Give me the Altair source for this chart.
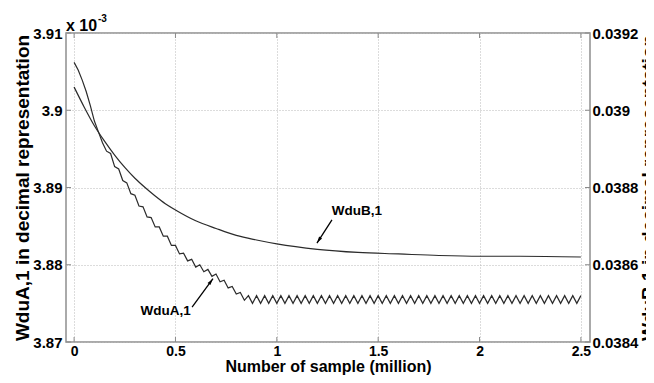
import altair as alt
import pandas as pd

FONT = "Liberation Sans"
W, H = 524, 309

# ---------------- data ----------------
# x in million samples, WduA,1 in units of 1e-3 (left axis)
a_x = [0.00, 0.02, 0.04, 0.06, 0.08, 0.10, 0.12, 0.14, 0.16, 0.18,
       0.20, 0.22, 0.24, 0.26, 0.28, 0.30, 0.32, 0.34, 0.36, 0.38,
       0.40, 0.42, 0.44, 0.46, 0.48, 0.50, 0.52, 0.54, 0.56, 0.58,
       0.60, 0.62, 0.64, 0.66, 0.68, 0.70, 0.72, 0.74, 0.76, 0.78,
       0.80, 0.82, 0.84, 0.86, 0.88, 0.90, 0.92, 0.94, 0.96, 0.98,
       1.00, 1.02, 1.04, 1.06, 1.08, 1.10, 1.12, 1.14, 1.16, 1.18,
       1.20, 1.22, 1.24, 1.26, 1.28, 1.30, 1.32, 1.34, 1.36, 1.38,
       1.40, 1.42, 1.44, 1.46, 1.48, 1.50, 1.52, 1.54, 1.56, 1.58,
       1.60, 1.62, 1.64, 1.66, 1.68, 1.70, 1.72, 1.74, 1.76, 1.78,
       1.80, 1.82, 1.84, 1.86, 1.88, 1.90, 1.92, 1.94, 1.96, 1.98,
       2.00, 2.02, 2.04, 2.06, 2.08, 2.10, 2.12, 2.14, 2.16, 2.18,
       2.20, 2.22, 2.24, 2.26, 2.28, 2.30, 2.32, 2.34, 2.36, 2.38,
       2.40, 2.42, 2.44, 2.46, 2.48, 2.50]
a_y = [3.9062, 3.9052, 3.9039, 3.9024, 3.9006, 3.8986, 3.8972, 3.8958, 3.8947, 3.8944,
       3.8927, 3.8924, 3.8909, 3.8906, 3.8892, 3.8890, 3.8876, 3.8875, 3.8862, 3.8861,
       3.8849, 3.8849, 3.8837, 3.8837, 3.8825, 3.8825, 3.8814, 3.8815, 3.8805, 3.8807,
       3.8797, 3.8800, 3.8791, 3.8794, 3.8785, 3.8788, 3.8778, 3.8780, 3.8770, 3.8772,
       3.8762, 3.8764, 3.8754, 3.8760, 3.8750, 3.8760, 3.8750, 3.8760, 3.8750, 3.8760,
       3.8750, 3.8760, 3.8750, 3.8760, 3.8750, 3.8760, 3.8750, 3.8760, 3.8750, 3.8760,
       3.8750, 3.8760, 3.8750, 3.8760, 3.8750, 3.8760, 3.8750, 3.8760, 3.8750, 3.8760,
       3.8750, 3.8760, 3.8750, 3.8760, 3.8750, 3.8760, 3.8750, 3.8760, 3.8750, 3.8760,
       3.8750, 3.8760, 3.8750, 3.8760, 3.8750, 3.8760, 3.8750, 3.8760, 3.8750, 3.8760,
       3.8750, 3.8760, 3.8750, 3.8760, 3.8750, 3.8760, 3.8750, 3.8760, 3.8750, 3.8760,
       3.8750, 3.8760, 3.8750, 3.8760, 3.8750, 3.8760, 3.8750, 3.8760, 3.8750, 3.8760,
       3.8750, 3.8760, 3.8750, 3.8760, 3.8750, 3.8760, 3.8750, 3.8760, 3.8750, 3.8760,
       3.8750, 3.8760, 3.8750, 3.8760, 3.8750, 3.8760]

# WduB,1 (right axis)
b_x = [0.00, 0.05, 0.10, 0.15, 0.20, 0.25, 0.30, 0.35, 0.40, 0.45, 0.50,
       0.60, 0.70, 0.80, 0.90, 1.00, 1.20, 1.40, 1.60, 1.80, 2.00, 2.20, 2.50]
b_y = [0.039060, 0.039008, 0.038960, 0.038920, 0.038884, 0.038852, 0.038824,
       0.038800, 0.038778, 0.038758, 0.038742, 0.038714, 0.038694, 0.038676,
       0.038664, 0.038654, 0.038640, 0.038632, 0.038628, 0.038624, 0.038622,
       0.038622, 0.038620]

x_ticks = [0, 0.5, 1, 1.5, 2, 2.5]
yl_ticks = [3.87, 3.88, 3.89, 3.90, 3.91]
yr_ticks = [0.0384, 0.0386, 0.0388, 0.0390, 0.0392]

ann_labels = ["WduB,1", "WduA,1"]
ann_x = [1.395, 0.451]
ann_y = [3.8870, 3.8740]
arr_x = [1.272, 0.582]
arr_y = [3.8858, 3.8745]
arr_x2 = [1.198, 0.685]
arr_y2 = [3.8828, 3.8782]
arr_angle = [213, 37]

# ---------------- chart ----------------
dfA = pd.DataFrame({"x": a_x, "y": a_y})
dfB = pd.DataFrame({"x": b_x, "y": b_y})
dfAnn = pd.DataFrame({"x": ann_x, "y": ann_y, "label": ann_labels})
dfArr = pd.DataFrame({"x": arr_x, "y": arr_y, "x2": arr_x2, "y2": arr_y2, "ang": arr_angle})
dfXT = pd.DataFrame({"x": x_ticks})
dfYT = pd.DataFrame({"y": yl_ticks})

xs = alt.Scale(domain=[-0.04, 2.545], nice=False, zero=False)
yls = alt.Scale(domain=[3.87, 3.91], nice=False, zero=False)
yrs = alt.Scale(domain=[0.0384, 0.0392], nice=False, zero=False)

GRID = dict(grid=True, gridDash=[1, 2], gridColor="#b8b8b8", gridWidth=1)
LBL = dict(labelFont=FONT, labelFontWeight="bold", labelColor="black",
           titleFont=FONT, titleFontWeight="bold", titleColor="black",
           ticks=False, domain=False)

x_axis = alt.Axis(values=x_ticks, format=".6~f", title="Number of sample (million)",
                  orient="bottom", labelFontSize=14, labelPadding=2, labelFlush=False,
                  titleFontSize=16, titleY=29.5, titleBaseline="alphabetic", **GRID, **LBL)
yl_axis = alt.Axis(values=yl_ticks, format=".6~f", title="WduA,1 in decimal representation",
                   orient="left", labelFontSize=15, labelPadding=4, titleFontSize=19,
                   titleAngle=270, titleX=-53, titleY=H / 2, titleBaseline="top",
                   titleAlign="center", **GRID, **LBL)
yr_axis = alt.Axis(values=yr_ticks, format=".6~f", orient="right",
                   title="WduB,1 in decimal representation",
                   labelFontSize=15, labelPadding=2, titleFontSize=19, titleAngle=270,
                   titleX=49, titleY=H / 2, titleBaseline="top", titleAlign="center",
                   grid=False, **LBL)

lineA = alt.Chart(dfA).mark_line(color="#2b2b2b", strokeWidth=1.2).encode(
    x=alt.X("x:Q", scale=xs, axis=x_axis),
    y=alt.Y("y:Q", scale=yls, axis=yl_axis),
)

lineB = alt.Chart(dfB).mark_line(color="#2b2b2b", strokeWidth=1.2, interpolate="monotone").encode(
    x=alt.X("x:Q", scale=xs, axis=None),
    y=alt.Y("y:Q", scale=yrs, axis=yr_axis),
)

tick_col = "#8a8a8a"
ticksL = alt.Chart(dfYT).mark_rule(color=tick_col, strokeWidth=1).encode(
    y=alt.Y("y:Q", scale=yls, axis=None), x=alt.value(0), x2=alt.value(5))
ticksR = alt.Chart(dfYT).mark_rule(color=tick_col, strokeWidth=1).encode(
    y=alt.Y("y:Q", scale=yls, axis=None), x=alt.value(W - 5), x2=alt.value(W))
ticksB = alt.Chart(dfXT).mark_rule(color=tick_col, strokeWidth=1).encode(
    x=alt.X("x:Q", scale=xs, axis=None), y=alt.value(H - 5), y2=alt.value(H))
ticksT = alt.Chart(dfXT).mark_rule(color=tick_col, strokeWidth=1).encode(
    x=alt.X("x:Q", scale=xs, axis=None), y=alt.value(0), y2=alt.value(5))

arrows = alt.Chart(dfArr).mark_rule(color="black", strokeWidth=1.3).encode(
    x=alt.X("x:Q", scale=xs, axis=None), y=alt.Y("y:Q", scale=yls, axis=None),
    x2="x2:Q", y2="y2:Q")
heads = alt.Chart(dfArr).mark_point(shape="M0,0L0.5,1.9L-0.5,1.9Z", filled=True,
                                    size=49, color="black", opacity=1).encode(
    x=alt.X("x2:Q", scale=xs, axis=None), y=alt.Y("y2:Q", scale=yls, axis=None),
    angle=alt.Angle("ang:Q", scale=None))
texts = alt.Chart(dfAnn).mark_text(font=FONT, fontSize=13.5, fontWeight="bold",
                                   color="black").encode(
    x=alt.X("x:Q", scale=xs, axis=None), y=alt.Y("y:Q", scale=yls, axis=None),
    text="label:N")

exp_main = alt.Chart(pd.DataFrame({"t": ["x 10"]})).mark_text(
    font=FONT, fontSize=16, fontWeight="bold", color="black", align="left",
    baseline="alphabetic").encode(text="t:N", x=alt.value(0), y=alt.value(-2))
exp_sup = alt.Chart(pd.DataFrame({"t": ["-3"]})).mark_text(
    font=FONT, fontSize=10, fontWeight="bold", color="black", align="left",
    baseline="alphabetic").encode(text="t:N", x=alt.value(32), y=alt.value(-11))

chart = alt.layer(lineA, lineB, ticksL, ticksR, ticksB, ticksT, arrows, heads, texts,
                  exp_main, exp_sup).resolve_scale(
    x="independent", y="independent").properties(
    width=W, height=H,
    padding={"left": 58, "top": 25, "right": 56, "bottom": 33},
    autosize=alt.AutoSizeParams(type="none"),
    background="white",
).configure_view(stroke="#8f8f8f", strokeWidth=1.5)

chart.save("out.html", embed_options={"renderer": "svg", "actions": False})
